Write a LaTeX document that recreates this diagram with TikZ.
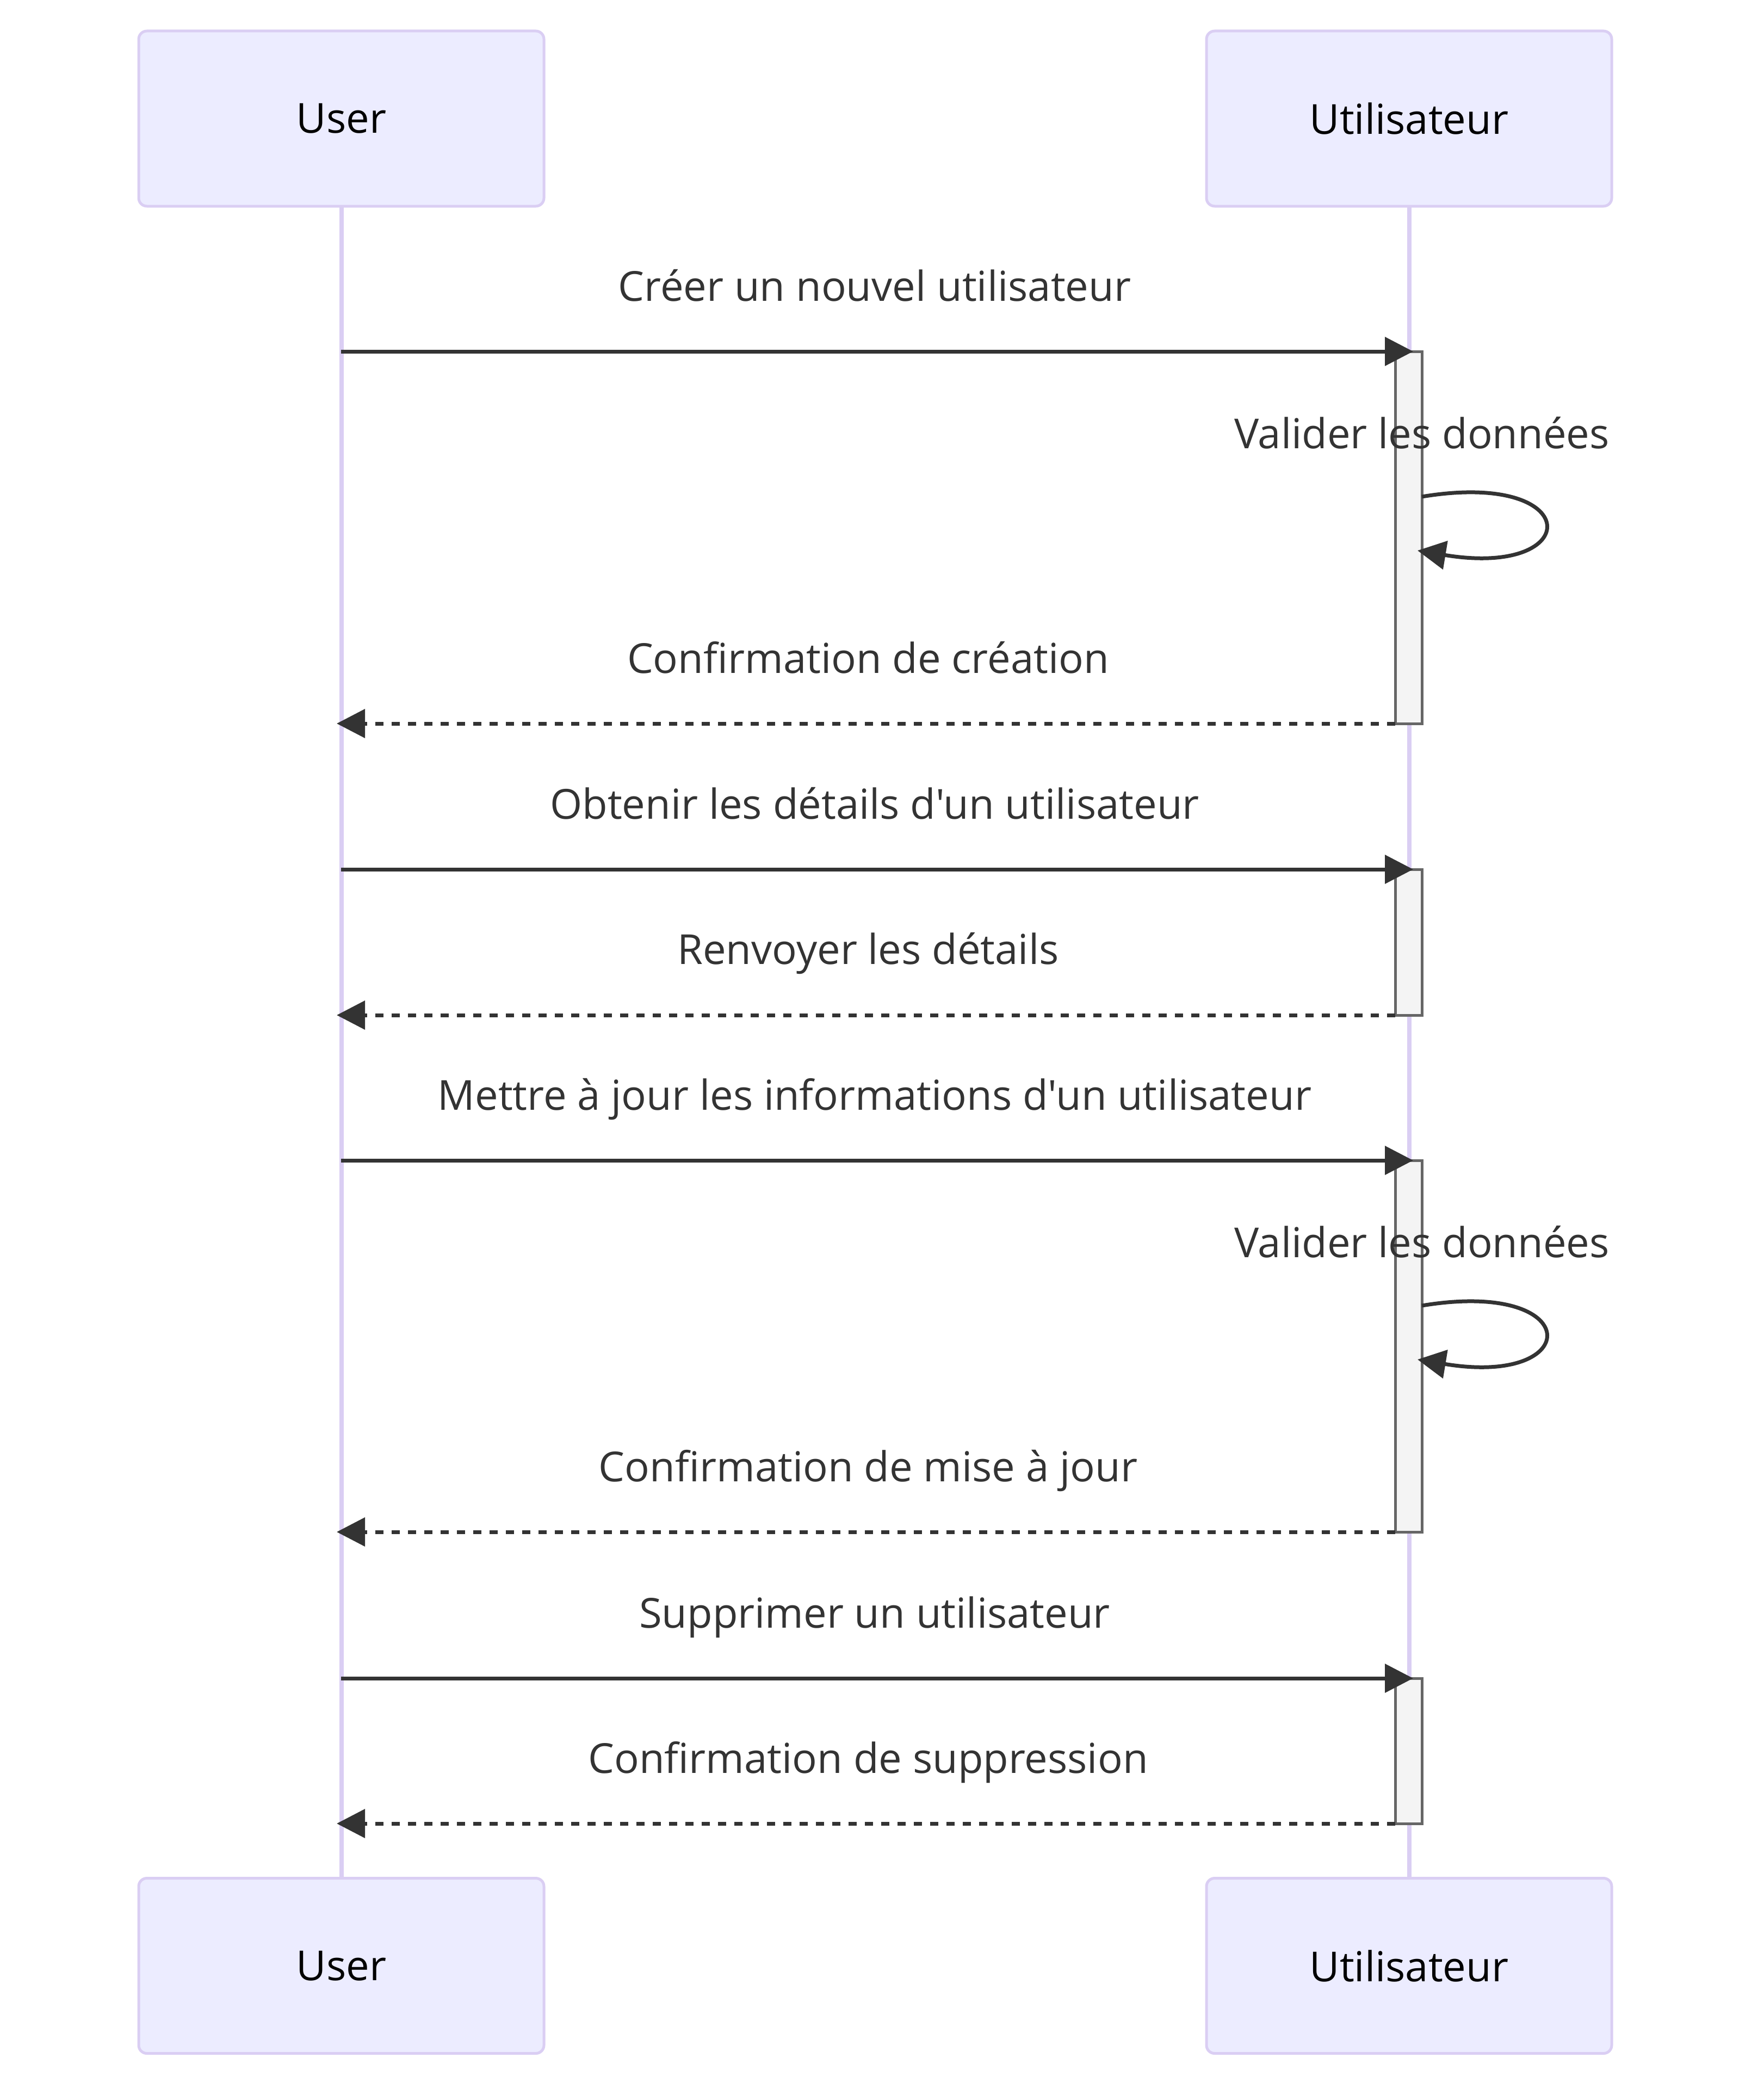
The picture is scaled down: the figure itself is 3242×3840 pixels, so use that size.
\documentclass[tikz,border=0pt]{standalone}
\usepackage{fontspec}
\setmainfont{Open Sans}[Ligatures=TeXOff]
\usetikzlibrary{arrows.meta}
\definecolor{actfill}{HTML}{ECECFF}
\definecolor{actline}{HTML}{DACEF3}
\definecolor{msgc}{HTML}{333333}
\definecolor{actvfill}{HTML}{F4F4F4}
\definecolor{actvline}{HTML}{666666}
\newcommand{\actlbl}[1]{\raisebox{-5pt}{#1}}
\begin{document}
\begin{tikzpicture}[x=1pt,y=-1pt,
  actorbox/.style={draw=actline, fill=actfill, line width=5pt, rounded corners=15pt,
    minimum width=745pt, minimum height=322pt, inner sep=0pt, outer sep=0pt,
    font=\fontsize{76pt}{92pt}\selectfont, text=black},
  lifeline/.style={draw=actline, line width=8pt},
  actvbox/.style={draw=actvline, fill=actvfill, line width=5pt, minimum width=49pt,
    inner sep=0pt, outer sep=0pt, anchor=north},
  msgsolid/.style={draw=msgc, line width=7pt, -{Triangle[length=52pt,width=52pt]}},
  msgdash/.style={msgsolid, dash pattern=on 15pt off 15pt},
  lbl/.style={anchor=base, text=msgc, font=\fontsize{76pt}{92pt}\selectfont, inner sep=0pt}]
\useasboundingbox (0,0) rectangle (3242,3840);

% actors
\node[actorbox] (uT) at (627.5,218) {\actlbl{User}};
\node[actorbox] (vT) at (2590.5,218) {\actlbl{Utilisateur}};
\node[actorbox] (uB) at (627.5,3613.5) {\actlbl{User}};
\node[actorbox] (vB) at (2590.5,3613.5) {\actlbl{Utilisateur}};

% lifelines
\draw[lifeline] (uT.south) -- (uB.north);
\draw[lifeline] (vT.south) -- (vB.north);

% activations
\node[actvbox, minimum height=684pt] (a1) at (2589.5,646) {};
\node[actvbox, minimum height=268pt] (a2) at (2589.5,1598) {};
\node[actvbox, minimum height=683pt] (a3) at (2589.5,2133) {};
\node[actvbox, minimum height=267pt] (a4) at (2589.5,3085) {};

% coordinates
\coordinate (m1s) at (627,646);   \coordinate (m1e) at (2598,646);
\coordinate (r1e) at (619,1330);
\coordinate (m2s) at (627,1598);  \coordinate (m2e) at (2598,1598);
\coordinate (r2e) at (619,1866);
\coordinate (m3s) at (627,2133);  \coordinate (m3e) at (2598,2133);
\coordinate (r3e) at (619,2816);
\coordinate (m4s) at (627,3085);  \coordinate (m4e) at (2598,3085);
\coordinate (r4e) at (619,3352);
\coordinate (s1s) at (2614,913);  \coordinate (s1e) at (2606,1012);
\coordinate (s2s) at (2614,2400); \coordinate (s2e) at (2606,2499);

% message 1
\node[lbl] (t1) at (1608,553) {Créer un nouvel utilisateur};
\draw[msgsolid] (m1s) -- (m1e);
\node[lbl] (t2) at (2614,824) {Valider les données};
\draw[msgsolid] (s1s) .. controls (2914,863) and (2914,1063) .. (s1e);
\node[lbl] (t3) at (1596,1237) {Confirmation de création};
\draw[msgdash] (a1.south west) -- (r1e);

% message 2
\node[lbl] (t4) at (1608,1505) {Obtenir les détails d'un utilisateur};
\draw[msgsolid] (m2s) -- (m2e);
\node[lbl] (t5) at (1596,1772) {Renvoyer les détails};
\draw[msgdash] (a2.south west) -- (r2e);

% message 3
\node[lbl] (t6) at (1608,2040) {Mettre à jour les informations d'un utilisateur};
\draw[msgsolid] (m3s) -- (m3e);
\node[lbl] (t7) at (2614,2311) {Valider les données};
\draw[msgsolid] (s2s) .. controls (2914,2350) and (2914,2550) .. (s2e);
\node[lbl] (t8) at (1596,2723) {Confirmation de mise à jour};
\draw[msgdash] (a3.south west) -- (r3e);

% message 4
\node[lbl] (t9) at (1608,2992) {Supprimer un utilisateur};
\draw[msgsolid] (m4s) -- (m4e);
\node[lbl] (t10) at (1596,3259) {Confirmation de suppression};
\draw[msgdash] (a4.south west) -- (r4e);
\end{tikzpicture}
\end{document}
